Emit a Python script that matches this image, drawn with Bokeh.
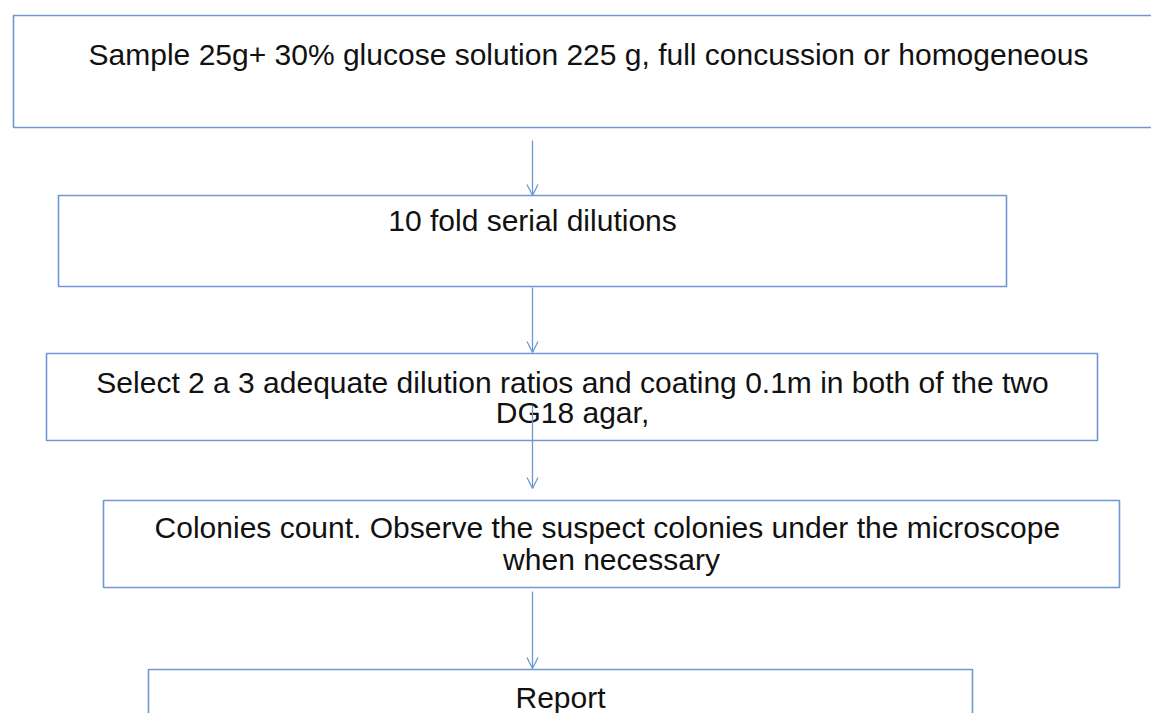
from bokeh.plotting import figure
from bokeh.models import Arrow, OpenHead, Range1d
from bokeh.core.properties import value
from bokeh.embed import file_html
from bokeh.resources import INLINE

# Flowchart boxes (pixel coordinates of the reference image)
box_left = [13, 58, 46, 103, 148]
box_right = [1200, 1006, 1097, 1119, 972]
box_top = [15, 195, 353, 500, 669]
box_bottom = [127, 286, 440, 587, 760]

# Text lines
text_lines = [
    "Sample 25g+ 30% glucose solution 225 g, full concussion or homogeneous",
    "10 fold serial dilutions",
    "Select 2 a 3 adequate dilution ratios and coating 0.1m in both of the two",
    "DG18 agar,",
    "Colonies count.  Observe the suspect colonies under the microscope",
    "when necessary",
    "Report",
]
text_x = [588, 532, 572, 572, 611, 611, 560]
text_y = [64, 230, 392, 422, 537, 569, 707]

# Arrows between boxes
arrow_x = [532, 532, 532, 532]
arrow_start = [140, 287, 405, 591]
arrow_end = [195, 352, 488, 668]

BLUE = "#6F98D3"

p = figure(width=1151, height=713, output_backend="svg", toolbar_location=None,
           x_range=Range1d(0, 1151), y_range=Range1d(713, 0),
           min_border=0, outline_line_color=None)
p.axis.visible = False
p.grid.visible = False
p.background_fill_color = "white"
p.border_fill_color = "white"

p.quad(left=box_left, right=box_right, top=box_top, bottom=box_bottom,
       fill_color=None, line_color=BLUE, line_width=1.6)

p.text(x=text_x, y=text_y, text=text_lines, text_align="center",
       text_baseline="alphabetic", text_font=value("Liberation Sans"),
       text_font_size="30px", text_color="#111111", y_offset=-10)

for ax, y0, y1 in zip(arrow_x, arrow_start, arrow_end):
    p.add_layout(Arrow(x_start=ax, y_start=y0, x_end=ax, y_end=y1,
                       line_color=BLUE, line_width=1.3,
                       end=OpenHead(size=11, line_color=BLUE, line_width=1.3)))

open("out.html", "w").write(file_html(p, INLINE))
